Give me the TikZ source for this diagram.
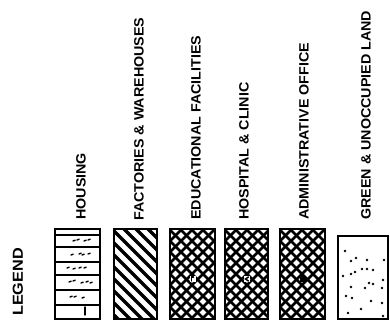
\documentclass[tikz,border=0pt]{standalone}
\usepackage{fontspec}
\setmainfont{Liberation Sans}
\usetikzlibrary{positioning,calc}
\newcommand{\widen}[1]{\scalebox{1.06}[1]{#1}}
\tikzset{
  legbox/.style={draw,line width=2.4pt,outer sep=0pt,inner sep=0pt,minimum width=45pt,minimum height=90pt},
  legtext/.style={rotate=90,anchor=west,inner sep=0pt,font=\bfseries\fontsize{13.5}{15}\selectfont},
  hatch/.style={line width=3.4pt},
  cross/.style={line width=2.8pt},
  rowline/.style={line width=1.4pt},
  scrib/.style={line width=1.4pt,line cap=round}
}

\begin{document}
\begin{tikzpicture}[x=1pt,y=1pt]
  \useasboundingbox (0,0) rectangle (390,328);
  \node[legtext, anchor=center, font=\bfseries\fontsize{14.5}{16}\selectfont] (legend) at (18,46) {\scalebox{1.12}[1]{LEGEND}};

  % boxes
  \node[legbox] (housing) at (77.5,54) {};
  \node[legbox, minimum width=43pt, right=14pt of housing] (factories) {};
  \node[legbox, right=13pt of factories] (edu) {};
  \node[legbox, minimum width=43pt, right=10pt of edu] (hospital) {};
  \node[legbox, right=12pt of hospital] (admin) {};
  \node[legbox, minimum width=50pt, minimum height=83pt, line width=1.4pt,
        right=13pt of admin.south east, anchor=south west] (green) {};

  % labels
  \node[legtext] (housinglbl) at ($(housing.north)+(3.5,9)$) {\widen{HOUSING}};
  \node[legtext] (factorieslbl) at ($(factories.north)+(3.5,8)$) {\widen{FACTORIES \& WAREHOUSES}};
  \node[legtext] (edulbl) at ($(edu.north)+(3.5,9)$) {\widen{EDUCATIONAL FACILITIES}};
  \node[legtext] (hospitallbl) at ($(hospital.north)+(-2.5,9)$) {\widen{HOSPITAL \& CLINIC}};
  \node[legtext] (adminlbl) at ($(admin.north)+(1.5,9)$) {\widen{ADMINISTRATIVE OFFICE}};
  \node[legtext] (greenlbl) at ($(green.north)+(3,16)$) {\widen{GREEN \& UNOCCUPIED LAND}};

  % housing rows
  \foreach \d in {6,18,33,46,61,76}
    \draw[rowline] ($(housing.north west)+(0,-\d)$) -- ++(45,0);
  \foreach \x/\y in {18/78,22/79,29/78,33/79,16/64,24/65,27/64,33/65,12/51,18/50,24/51,29/51,
                     14/37,18/38,26/36,31/37,35/36,15/22,19/22,27/21}
    \draw[scrib] ($(housing.south west)+(\x,\y)$) -- ++(2.2,0.8);
  \draw[scrib] ($(housing.south west)+(30,4)$) -- ++(0,8);

  % factories stripes
  \begin{scope}
    \clip (factories.south west) rectangle (factories.north east);
    \foreach \s in {-110,-98,...,50}
      \draw[hatch] ($(factories.north west)+(\s,0)$) -- ++(110,-110);
  \end{scope}

  % cross hatching
  \foreach \b in {edu,hospital,admin} {
    \begin{scope}
      \clip (\b.south west) rectangle (\b.north east);
      \foreach \s in {-100,-89,...,50} {
        \draw[cross] ($(\b.north west)+(\s,0)$) -- ++(110,-110);
        \draw[cross] ($(\b.south west)+(\s,0)$) -- ++(110,110);
      }
    \end{scope}
  }
  \fill[white] ($(edu.center)+(-3,-8)$) rectangle ++(6,6);
  \draw[scrib] ($(edu.center)+(-1,-7)$) -- ++(0,4) -- ++(2,0);
  \fill[white] ($(hospital.center)+(-3,-8)$) rectangle ++(6,6);
  \draw[scrib] ($(hospital.center)+(2,-7)$) -- ++(-3,2) -- ++(3,2);
  \fill ($(admin.center)+(-3,-8)$) rectangle ++(6,6);

  % green dots
  \draw[line width=2.6pt] (green.south west) -- (green.north west);
  \foreach \x/\y in {7/68,13/58,18/61,29/59,24/50,46/59,13/45,17/47,29/50,35/49,5/43,45/39,
                     13/32,27/31,31/36,35/35,44/31,8/23,14/21,33/18,44/16,10/6,23/10,45/3}
    \fill ($(green.south west)+(\x,\y)$) circle (1.3pt);
\end{tikzpicture}
\end{document}
